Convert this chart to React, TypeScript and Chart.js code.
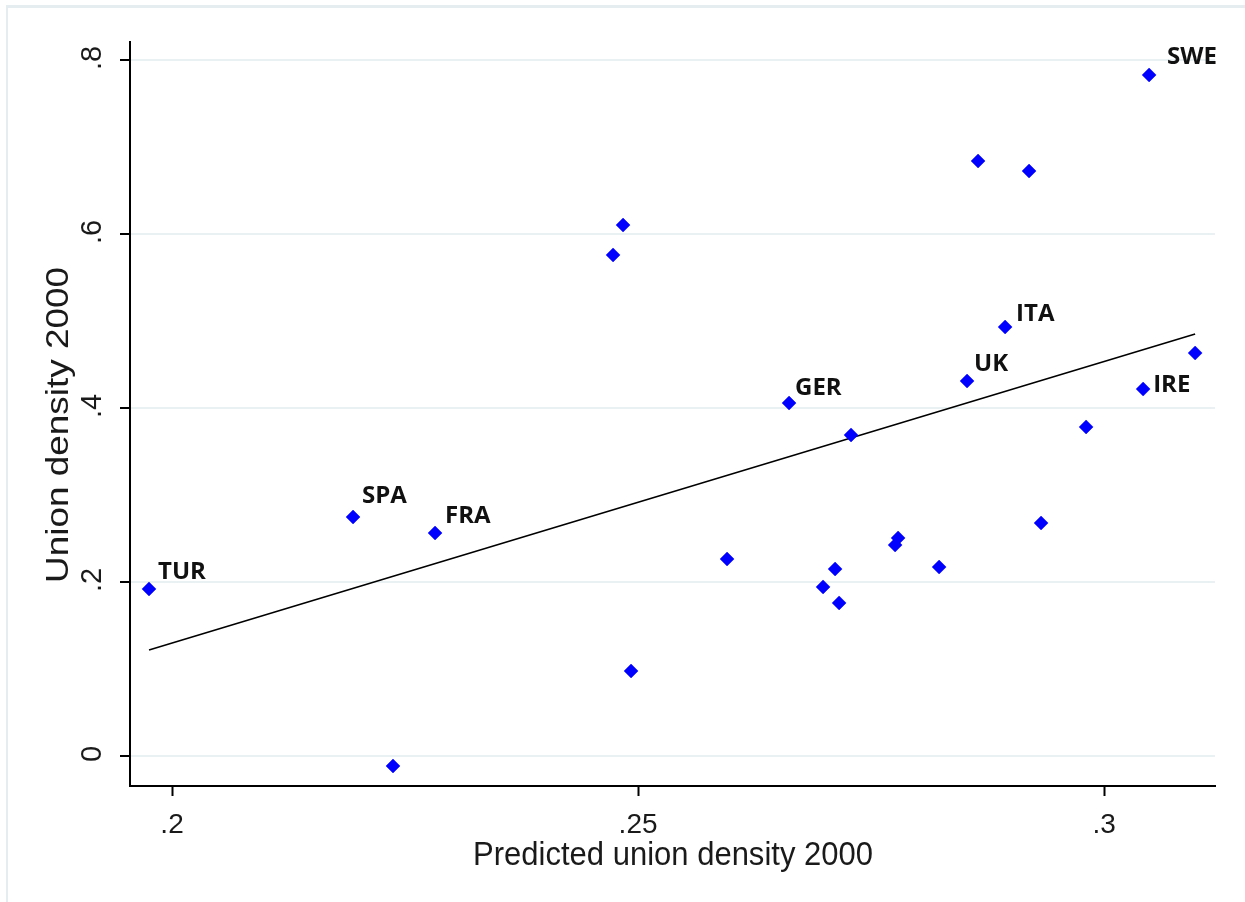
import { useEffect, useRef } from "react";
import { Chart, registerables } from "chart.js";

Chart.register(...registerables);

// ---- data ----
const predicted = [
  0.19753, 0.21942, 0.22371, 0.22822, 0.24732, 0.24839, 0.24925, 0.25955,
  0.2662, 0.26985, 0.27114, 0.27157, 0.27285, 0.27758, 0.2779, 0.2823,
  0.2853, 0.28648, 0.28938, 0.29195, 0.29324, 0.29807, 0.30419, 0.30483,
  0.30977,
];
const density = [
  0.192, 0.2747, -0.0115, 0.2563, 0.5759, 0.6103, 0.0977, 0.2264,
  0.4057, 0.1943, 0.2149, 0.1759, 0.369, 0.2425, 0.2506, 0.2172,
  0.431, 0.6839, 0.4931, 0.6724, 0.2678, 0.3782, 0.4218, 0.7828,
  0.4632,
];
const countries = [
  "TUR", "SPA", "", "FRA", "", "", "", "",
  "GER", "", "", "", "", "", "", "",
  "UK", "", "ITA", "", "", "", "IRE", "SWE",
  "",
];
const fitX = [0.19753, 0.30977];
const fitY = [0.1218, 0.4851];
const xTicks = [0.2, 0.25, 0.3];
const xTickLabels = [".2", ".25", ".3"];
const yTicks = [0, 0.2, 0.4, 0.6, 0.8];
const yTickLabels = ["0", ".2", ".4", ".6", ".8"];
const xTitle = "Predicted union density 2000";
const yTitle = "Union density 2000";

// ---- styles (label placement relative to the marker) ----
const labelOffsets: Record<string, [number, number]> = {
  TUR: [9, -10],
  SPA: [9, -14],
  FRA: [10, -10],
  GER: [6, -8],
  UK: [7, -10],
  ITA: [11, -6],
  IRE: [10, 3],
  SWE: [18, -11],
};

const SANS = '"Liberation Sans", Arial, sans-serif';
const TEXT = "#1a1a1a";

const overlay = {
  id: "overlay",
  afterDraw(chart: any) {
    const ctx = chart.ctx as CanvasRenderingContext2D;
    const xs = chart.scales.x;
    const ys = chart.scales.y;
    ctx.save();

    // outer frame (top and left)
    ctx.fillStyle = "#e5edf0";
    ctx.fillRect(7, 5, chart.width - 7, 3);
    ctx.fillRect(6, 5, 2, chart.height - 5);

    ctx.fillStyle = TEXT;

    // y tick labels (rotated)
    ctx.font = `29px ${SANS}`;
    ctx.textAlign = "center";
    ctx.textBaseline = "alphabetic";
    yTicks.forEach((v, i) => {
      const py = ys.getPixelForValue(v);
      ctx.save();
      ctx.translate(101, py - 2);
      ctx.rotate(-Math.PI / 2);
      ctx.fillText(yTickLabels[i], 0, 0);
      ctx.restore();
    });

    // x tick labels
    ctx.font = `28px ${SANS}`;
    xTicks.forEach((v, i) => {
      const px = xs.getPixelForValue(v);
      ctx.fillText(xTickLabels[i], px, 833);
    });

    // y title
    ctx.font = `32px ${SANS}`;
    {
      const w = ctx.measureText(yTitle).width;
      const sx = 316 / w;
      ctx.save();
      ctx.translate(68, 425);
      ctx.rotate(-Math.PI / 2);
      ctx.scale(sx, 1);
      ctx.fillText(yTitle, 0, 0);
      ctx.restore();
    }

    // x title
    ctx.font = `33px ${SANS}`;
    {
      const w = ctx.measureText(xTitle).width;
      const sx = 400 / w;
      ctx.save();
      ctx.translate(673, 865);
      ctx.scale(sx, 1);
      ctx.fillText(xTitle, 0, 0);
      ctx.restore();
    }

    // point labels
    ctx.font = `bold 24px "Open Sans", ${SANS}`;
    ctx.textAlign = "left";
    ctx.fillStyle = "#111111";
    const meta = chart.getDatasetMeta(0);
    countries.forEach((c, i) => {
      if (!c) return;
      const el = meta.data[i];
      const off = labelOffsets[c] || [8, -10];
      ctx.fillText(c, el.x + off[0], el.y + off[1]);
    });

    ctx.restore();
  },
};

export default function App() {
  const canvasRef = useRef<HTMLCanvasElement | null>(null);

  useEffect(() => {
    const canvas = canvasRef.current;
    if (!canvas) return;
    const chart = new Chart(canvas, {
      type: "scatter",
      data: {
        datasets: [
          {
            data: predicted.map((x, i) => ({ x, y: density[i] })),
            pointStyle: "rectRot",
            pointRadius: 7,
            pointHoverRadius: 7,
            backgroundColor: "#0000ff",
            borderColor: "#0000ff",
            borderWidth: 0.5,
          },
          {
            data: fitX.map((x, i) => ({ x, y: fitY[i] })),
            showLine: true,
            borderColor: "#000000",
            borderWidth: 1.6,
            pointRadius: 0,
            pointHoverRadius: 0,
            backgroundColor: "#000000",
          },
        ],
      },
      options: {
        responsive: false,
        animation: false,
        events: [],
        layout: { padding: { top: 42, right: 30, left: 0, bottom: 0 } },
        plugins: {
          legend: { display: false },
          tooltip: { enabled: false },
          title: { display: false },
        },
        scales: {
          x: {
            type: "linear",
            min: 0.19549,
            max: 0.3119,
            afterBuildTicks: (s: any) => {
              s.ticks = xTicks.map((v) => ({ value: v }));
            },
            afterFit: (s: any) => {
              s.height = 116;
            },
            ticks: { color: "rgba(0,0,0,0)", font: { size: 12 } },
            grid: {
              drawOnChartArea: false,
              drawTicks: true,
              tickLength: 10,
              tickWidth: 2,
              tickColor: "#000000",
            },
            border: { display: true, color: "#000000", width: 2 },
          },
          y: {
            type: "linear",
            min: -0.0345,
            max: 0.8207,
            afterBuildTicks: (s: any) => {
              s.ticks = yTicks.map((v) => ({ value: v }));
            },
            afterFit: (s: any) => {
              s.width = 130;
            },
            ticks: { color: "rgba(0,0,0,0)", font: { size: 12 } },
            grid: {
              color: "#e9f1f3",
              lineWidth: 2,
              drawTicks: true,
              tickLength: 10,
              tickWidth: 2,
              tickColor: "#000000",
            },
            border: { display: true, color: "#000000", width: 2 },
          },
        },
      },
      plugins: [overlay],
    });
    return () => chart.destroy();
  }, []);

  return (
    <div style={{ position: "absolute", left: 0, top: 0, width: 1245, height: 902, background: "#ffffff" }}>
      <canvas ref={canvasRef} width={1245} height={902} style={{ display: "block" }} />
    </div>
  );
}
